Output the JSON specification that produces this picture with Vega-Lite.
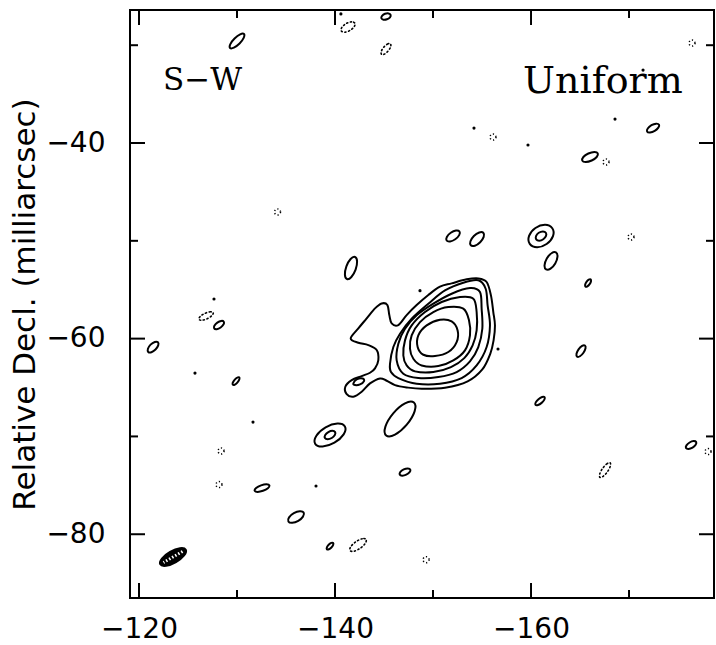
{
"$schema":"https://vega.github.io/schema/vega-lite/v6.json",
"width":584,"height":588,"autosize":"none",
"padding":{"left":130,"top":10,"right":2,"bottom":47},
"background":"white",
"config":{"view":{"stroke":"black","strokeWidth":2},"axis":{"grid":false,"domain":false,"ticks":false,"labelColor":"black","labelFont":"DejaVu Sans","labelFontSize":28,"labelFlush":false,"labelOverlap":false}},
"datasets":{
"c":[
{"c":"A","s":"p","i":0,"x":-130.71,"y":-28.86},{"c":"A","s":"p","i":1,"x":-130.32,"y":-28.89},{"c":"A","s":"p","i":2,"x":-129.75,"y":-29.32},{"c":"A","s":"p","i":3,"x":-129.32,"y":-29.89},{"c":"A","s":"p","i":4,"x":-129.29,"y":-30.28},{"c":"A","s":"p","i":5,"x":-129.68,"y":-30.25},{"c":"A","s":"p","i":6,"x":-130.26,"y":-29.83},{"c":"A","s":"p","i":7,"x":-130.68,"y":-29.25},
{"c":"B","s":"p","i":0,"x":-145.67,"y":-26.90},{"c":"B","s":"p","i":1,"x":-145.46,"y":-26.75},{"c":"B","s":"p","i":2,"x":-145.10,"y":-26.79},{"c":"B","s":"p","i":3,"x":-144.80,"y":-26.99},{"c":"B","s":"p","i":4,"x":-144.73,"y":-27.24},{"c":"B","s":"p","i":5,"x":-144.94,"y":-27.39},{"c":"B","s":"p","i":6,"x":-145.30,"y":-27.35},{"c":"B","s":"p","i":7,"x":-145.61,"y":-27.15},
{"c":"D","s":"n","i":0,"x":-142.02,"y":-27.74},{"c":"D","s":"n","i":1,"x":-141.68,"y":-27.61},{"c":"D","s":"n","i":2,"x":-141.13,"y":-27.79},{"c":"D","s":"n","i":3,"x":-140.70,"y":-28.18},{"c":"D","s":"n","i":4,"x":-140.64,"y":-28.54},{"c":"D","s":"n","i":5,"x":-140.98,"y":-28.67},{"c":"D","s":"n","i":6,"x":-141.53,"y":-28.49},{"c":"D","s":"n","i":7,"x":-141.96,"y":-28.10},
{"c":"E","s":"n","i":0,"x":-145.65,"y":-29.85},{"c":"E","s":"n","i":1,"x":-145.36,"y":-29.88},{"c":"E","s":"n","i":2,"x":-144.97,"y":-30.20},{"c":"E","s":"n","i":3,"x":-144.72,"y":-30.63},{"c":"E","s":"n","i":4,"x":-144.75,"y":-30.93},{"c":"E","s":"n","i":5,"x":-145.04,"y":-30.91},{"c":"E","s":"n","i":6,"x":-145.43,"y":-30.58},{"c":"E","s":"n","i":7,"x":-145.68,"y":-30.15},
{"c":"L","s":"p","i":0,"x":-173.06,"y":-38.12},{"c":"L","s":"p","i":1,"x":-172.76,"y":-38.02},{"c":"L","s":"p","i":2,"x":-172.29,"y":-38.18},{"c":"L","s":"p","i":3,"x":-171.91,"y":-38.52},{"c":"L","s":"p","i":4,"x":-171.84,"y":-38.82},{"c":"L","s":"p","i":5,"x":-172.14,"y":-38.92},{"c":"L","s":"p","i":6,"x":-172.62,"y":-38.76},{"c":"L","s":"p","i":7,"x":-172.99,"y":-38.43},
{"c":"M","s":"p","i":0,"x":-166.81,"y":-41.06},{"c":"M","s":"p","i":1,"x":-166.46,"y":-40.91},{"c":"M","s":"p","i":2,"x":-165.85,"y":-41.07},{"c":"M","s":"p","i":3,"x":-165.34,"y":-41.43},{"c":"M","s":"p","i":4,"x":-165.23,"y":-41.80},{"c":"M","s":"p","i":5,"x":-165.58,"y":-41.95},{"c":"M","s":"p","i":6,"x":-166.19,"y":-41.79},{"c":"M","s":"p","i":7,"x":-166.70,"y":-41.43},
{"c":"P","s":"p","i":0,"x":-142.04,"y":-51.65},{"c":"P","s":"p","i":1,"x":-141.59,"y":-51.86},{"c":"P","s":"p","i":2,"x":-141.16,"y":-52.61},{"c":"P","s":"p","i":3,"x":-141.01,"y":-53.46},{"c":"P","s":"p","i":4,"x":-141.22,"y":-53.91},{"c":"P","s":"p","i":5,"x":-141.67,"y":-53.70},{"c":"P","s":"p","i":6,"x":-142.10,"y":-52.95},{"c":"P","s":"p","i":7,"x":-142.25,"y":-52.10},
{"c":"Q","s":"p","i":0,"x":-152.70,"y":-49.05},{"c":"Q","s":"p","i":1,"x":-152.34,"y":-48.95},{"c":"Q","s":"p","i":2,"x":-151.81,"y":-49.18},{"c":"Q","s":"p","i":3,"x":-151.41,"y":-49.60},{"c":"Q","s":"p","i":4,"x":-151.39,"y":-49.97},{"c":"Q","s":"p","i":5,"x":-151.74,"y":-50.07},{"c":"Q","s":"p","i":6,"x":-152.27,"y":-49.84},{"c":"Q","s":"p","i":7,"x":-152.67,"y":-49.42},
{"c":"R","s":"p","i":0,"x":-155.13,"y":-49.18},{"c":"R","s":"p","i":1,"x":-154.72,"y":-49.15},{"c":"R","s":"p","i":2,"x":-154.17,"y":-49.50},{"c":"R","s":"p","i":3,"x":-153.82,"y":-50.05},{"c":"R","s":"p","i":4,"x":-153.85,"y":-50.46},{"c":"R","s":"p","i":5,"x":-154.27,"y":-50.50},{"c":"R","s":"p","i":6,"x":-154.81,"y":-50.14},{"c":"R","s":"p","i":7,"x":-155.17,"y":-49.60},
{"c":"S1","s":"p","i":0,"x":-162.17,"y":-48.71},{"c":"S1","s":"p","i":1,"x":-161.43,"y":-48.36},{"c":"S1","s":"p","i":2,"x":-160.45,"y":-48.69},{"c":"S1","s":"p","i":3,"x":-159.80,"y":-49.50},{"c":"S1","s":"p","i":4,"x":-159.87,"y":-50.31},{"c":"S1","s":"p","i":5,"x":-160.62,"y":-50.66},{"c":"S1","s":"p","i":6,"x":-161.59,"y":-50.33},{"c":"S1","s":"p","i":7,"x":-162.24,"y":-49.52},
{"c":"S2","s":"p","i":0,"x":-161.51,"y":-49.17},{"c":"S2","s":"p","i":1,"x":-161.21,"y":-49.04},{"c":"S2","s":"p","i":2,"x":-160.79,"y":-49.18},{"c":"S2","s":"p","i":3,"x":-160.51,"y":-49.52},{"c":"S2","s":"p","i":4,"x":-160.53,"y":-49.85},{"c":"S2","s":"p","i":5,"x":-160.84,"y":-49.99},{"c":"S2","s":"p","i":6,"x":-161.25,"y":-49.84},{"c":"S2","s":"p","i":7,"x":-161.53,"y":-49.50},
{"c":"T","s":"p","i":0,"x":-162.54,"y":-51.19},{"c":"T","s":"p","i":1,"x":-162.09,"y":-51.27},{"c":"T","s":"p","i":2,"x":-161.61,"y":-51.81},{"c":"T","s":"p","i":3,"x":-161.38,"y":-52.50},{"c":"T","s":"p","i":4,"x":-161.54,"y":-52.93},{"c":"T","s":"p","i":5,"x":-161.99,"y":-52.85},{"c":"T","s":"p","i":6,"x":-162.47,"y":-52.31},{"c":"T","s":"p","i":7,"x":-162.70,"y":-51.62},
{"c":"V","s":"p","i":0,"x":-166.08,"y":-53.94},{"c":"V","s":"p","i":1,"x":-165.89,"y":-53.97},{"c":"V","s":"p","i":2,"x":-165.66,"y":-54.20},{"c":"V","s":"p","i":3,"x":-165.52,"y":-54.49},{"c":"V","s":"p","i":4,"x":-165.56,"y":-54.68},{"c":"V","s":"p","i":5,"x":-165.75,"y":-54.65},{"c":"V","s":"p","i":6,"x":-165.98,"y":-54.43},{"c":"V","s":"p","i":7,"x":-166.12,"y":-54.13},
{"c":"X","s":"n","i":0,"x":-127.57,"y":-57.35},{"c":"X","s":"n","i":1,"x":-127.26,"y":-57.26},{"c":"X","s":"n","i":2,"x":-126.71,"y":-57.42},{"c":"X","s":"n","i":3,"x":-126.24,"y":-57.74},{"c":"X","s":"n","i":4,"x":-126.12,"y":-58.03},{"c":"X","s":"n","i":5,"x":-126.42,"y":-58.12},{"c":"X","s":"n","i":6,"x":-126.97,"y":-57.96},{"c":"X","s":"n","i":7,"x":-127.44,"y":-57.64},
{"c":"Y","s":"p","i":0,"x":-128.65,"y":-58.27},{"c":"Y","s":"p","i":1,"x":-128.39,"y":-58.19},{"c":"Y","s":"p","i":2,"x":-127.99,"y":-58.36},{"c":"Y","s":"p","i":3,"x":-127.69,"y":-58.68},{"c":"Y","s":"p","i":4,"x":-127.67,"y":-58.95},{"c":"Y","s":"p","i":5,"x":-127.93,"y":-59.03},{"c":"Y","s":"p","i":6,"x":-128.33,"y":-58.86},{"c":"Y","s":"p","i":7,"x":-128.63,"y":-58.54},
{"c":"Z","s":"p","i":0,"x":-121.93,"y":-60.37},{"c":"Z","s":"p","i":1,"x":-121.61,"y":-60.34},{"c":"Z","s":"p","i":2,"x":-121.18,"y":-60.61},{"c":"Z","s":"p","i":3,"x":-120.91,"y":-61.04},{"c":"Z","s":"p","i":4,"x":-120.94,"y":-61.36},{"c":"Z","s":"p","i":5,"x":-121.26,"y":-61.39},{"c":"Z","s":"p","i":6,"x":-121.68,"y":-61.11},{"c":"Z","s":"p","i":7,"x":-121.96,"y":-60.69},
{"c":"AB","s":"p","i":0,"x":-130.22,"y":-63.96},{"c":"AB","s":"p","i":1,"x":-130.02,"y":-63.98},{"c":"AB","s":"p","i":2,"x":-129.75,"y":-64.21},{"c":"AB","s":"p","i":3,"x":-129.56,"y":-64.52},{"c":"AB","s":"p","i":4,"x":-129.58,"y":-64.72},{"c":"AB","s":"p","i":5,"x":-129.78,"y":-64.70},{"c":"AB","s":"p","i":6,"x":-130.05,"y":-64.47},{"c":"AB","s":"p","i":7,"x":-130.24,"y":-64.16},
{"c":"AD1","s":"p","i":0,"x":-141.01,"y":-68.99},{"c":"AD1","s":"p","i":1,"x":-140.24,"y":-68.69},{"c":"AD1","s":"p","i":2,"x":-139.04,"y":-69.08},{"c":"AD1","s":"p","i":3,"x":-138.10,"y":-69.93},{"c":"AD1","s":"p","i":4,"x":-137.97,"y":-70.74},{"c":"AD1","s":"p","i":5,"x":-138.74,"y":-71.03},{"c":"AD1","s":"p","i":6,"x":-139.94,"y":-70.64},{"c":"AD1","s":"p","i":7,"x":-140.88,"y":-69.79},
{"c":"AD2","s":"p","i":0,"x":-140.01,"y":-69.56},{"c":"AD2","s":"p","i":1,"x":-139.73,"y":-69.43},{"c":"AD2","s":"p","i":2,"x":-139.32,"y":-69.56},{"c":"AD2","s":"p","i":3,"x":-139.00,"y":-69.86},{"c":"AD2","s":"p","i":4,"x":-138.97,"y":-70.16},{"c":"AD2","s":"p","i":5,"x":-139.25,"y":-70.29},{"c":"AD2","s":"p","i":6,"x":-139.67,"y":-70.16},{"c":"AD2","s":"p","i":7,"x":-139.98,"y":-69.86},
{"c":"AE","s":"p","i":0,"x":-148.05,"y":-66.54},{"c":"AE","s":"p","i":1,"x":-147.14,"y":-66.62},{"c":"AE","s":"p","i":2,"x":-145.94,"y":-67.64},{"c":"AE","s":"p","i":3,"x":-145.14,"y":-69.00},{"c":"AE","s":"p","i":4,"x":-145.22,"y":-69.91},{"c":"AE","s":"p","i":5,"x":-146.12,"y":-69.82},{"c":"AE","s":"p","i":6,"x":-147.32,"y":-68.80},{"c":"AE","s":"p","i":7,"x":-148.12,"y":-67.44},
{"c":"AF","s":"p","i":0,"x":-147.68,"y":-73.39},{"c":"AF","s":"p","i":1,"x":-147.44,"y":-73.27},{"c":"AF","s":"p","i":2,"x":-147.01,"y":-73.37},{"c":"AF","s":"p","i":3,"x":-146.67,"y":-73.63},{"c":"AF","s":"p","i":4,"x":-146.60,"y":-73.89},{"c":"AF","s":"p","i":5,"x":-146.85,"y":-74.01},{"c":"AF","s":"p","i":6,"x":-147.27,"y":-73.91},{"c":"AF","s":"p","i":7,"x":-147.61,"y":-73.65},
{"c":"AJ","s":"p","i":0,"x":-133.30,"y":-75.01},{"c":"AJ","s":"p","i":1,"x":-133.01,"y":-74.89},{"c":"AJ","s":"p","i":2,"x":-132.45,"y":-75.00},{"c":"AJ","s":"p","i":3,"x":-131.95,"y":-75.27},{"c":"AJ","s":"p","i":4,"x":-131.80,"y":-75.55},{"c":"AJ","s":"p","i":5,"x":-132.09,"y":-75.67},{"c":"AJ","s":"p","i":6,"x":-132.65,"y":-75.56},{"c":"AJ","s":"p","i":7,"x":-133.15,"y":-75.29},
{"c":"AK","s":"p","i":0,"x":-136.80,"y":-77.79},{"c":"AK","s":"p","i":1,"x":-136.41,"y":-77.65},{"c":"AK","s":"p","i":2,"x":-135.80,"y":-77.85},{"c":"AK","s":"p","i":3,"x":-135.31,"y":-78.28},{"c":"AK","s":"p","i":4,"x":-135.24,"y":-78.69},{"c":"AK","s":"p","i":5,"x":-135.63,"y":-78.83},{"c":"AK","s":"p","i":6,"x":-136.25,"y":-78.63},{"c":"AK","s":"p","i":7,"x":-136.73,"y":-78.20},
{"c":"AL","s":"p","i":0,"x":-139.81,"y":-80.89},{"c":"AL","s":"p","i":1,"x":-139.62,"y":-80.89},{"c":"AL","s":"p","i":2,"x":-139.35,"y":-81.07},{"c":"AL","s":"p","i":3,"x":-139.17,"y":-81.34},{"c":"AL","s":"p","i":4,"x":-139.17,"y":-81.53},{"c":"AL","s":"p","i":5,"x":-139.37,"y":-81.54},{"c":"AL","s":"p","i":6,"x":-139.63,"y":-81.35},{"c":"AL","s":"p","i":7,"x":-139.81,"y":-81.08},
{"c":"AM","s":"n","i":0,"x":-143.17,"y":-80.53},{"c":"AM","s":"n","i":1,"x":-142.77,"y":-80.46},{"c":"AM","s":"n","i":2,"x":-142.12,"y":-80.77},{"c":"AM","s":"n","i":3,"x":-141.61,"y":-81.27},{"c":"AM","s":"n","i":4,"x":-141.53,"y":-81.67},{"c":"AM","s":"n","i":5,"x":-141.93,"y":-81.74},{"c":"AM","s":"n","i":6,"x":-142.58,"y":-81.43},{"c":"AM","s":"n","i":7,"x":-143.09,"y":-80.93},
{"c":"AP","s":"p","i":0,"x":-161.38,"y":-65.99},{"c":"AP","s":"p","i":1,"x":-161.13,"y":-65.97},{"c":"AP","s":"p","i":2,"x":-160.76,"y":-66.19},{"c":"AP","s":"p","i":3,"x":-160.48,"y":-66.52},{"c":"AP","s":"p","i":4,"x":-160.46,"y":-66.77},{"c":"AP","s":"p","i":5,"x":-160.71,"y":-66.79},{"c":"AP","s":"p","i":6,"x":-161.08,"y":-66.57},{"c":"AP","s":"p","i":7,"x":-161.36,"y":-66.24},
{"c":"AQ","s":"p","i":0,"x":-165.50,"y":-60.70},{"c":"AQ","s":"p","i":1,"x":-165.21,"y":-60.74},{"c":"AQ","s":"p","i":2,"x":-164.85,"y":-61.10},{"c":"AQ","s":"p","i":3,"x":-164.64,"y":-61.55},{"c":"AQ","s":"p","i":4,"x":-164.70,"y":-61.84},{"c":"AQ","s":"p","i":5,"x":-164.99,"y":-61.80},{"c":"AQ","s":"p","i":6,"x":-165.35,"y":-61.44},{"c":"AQ","s":"p","i":7,"x":-165.56,"y":-60.99},
{"c":"AR","s":"n","i":0,"x":-168.07,"y":-72.70},{"c":"AR","s":"n","i":1,"x":-167.74,"y":-72.80},{"c":"AR","s":"n","i":2,"x":-167.30,"y":-73.27},{"c":"AR","s":"n","i":3,"x":-167.01,"y":-73.84},{"c":"AR","s":"n","i":4,"x":-167.03,"y":-74.18},{"c":"AR","s":"n","i":5,"x":-167.36,"y":-74.08},{"c":"AR","s":"n","i":6,"x":-167.80,"y":-73.61},{"c":"AR","s":"n","i":7,"x":-168.09,"y":-73.04},
{"c":"AS","s":"p","i":0,"x":-176.85,"y":-70.58},{"c":"AS","s":"p","i":1,"x":-176.59,"y":-70.48},{"c":"AS","s":"p","i":2,"x":-176.18,"y":-70.62},{"c":"AS","s":"p","i":3,"x":-175.86,"y":-70.91},{"c":"AS","s":"p","i":4,"x":-175.81,"y":-71.18},{"c":"AS","s":"p","i":5,"x":-176.07,"y":-71.28},{"c":"AS","s":"p","i":6,"x":-176.48,"y":-71.14},{"c":"AS","s":"p","i":7,"x":-176.80,"y":-70.85},
{"c":"BM","s":"b","i":0,"x":-124.77,"y":-81.58},{"c":"BM","s":"b","i":1,"x":-124.18,"y":-81.43},{"c":"BM","s":"b","i":2,"x":-123.17,"y":-81.81},{"c":"BM","s":"b","i":3,"x":-122.34,"y":-82.49},{"c":"BM","s":"b","i":4,"x":-122.17,"y":-83.08},{"c":"BM","s":"b","i":5,"x":-122.76,"y":-83.23},{"c":"BM","s":"b","i":6,"x":-123.77,"y":-82.85},{"c":"BM","s":"b","i":7,"x":-124.60,"y":-82.17},
{"c":"H","s":"h","i":0,"x":-124.44,"y":-81.77},{"c":"H","s":"h","i":1,"x":-122.50,"y":-82.89},
{"c":"M0","s":"p","i":0,"x":-148.43,"y":-60.86},{"c":"M0","s":"p","i":1,"x":-148.50,"y":-59.67},{"c":"M0","s":"p","i":2,"x":-149.35,"y":-58.65},{"c":"M0","s":"p","i":3,"x":-150.71,"y":-58.07},{"c":"M0","s":"p","i":4,"x":-151.90,"y":-58.24},{"c":"M0","s":"p","i":5,"x":-152.51,"y":-59.16},{"c":"M0","s":"p","i":6,"x":-152.41,"y":-60.35},{"c":"M0","s":"p","i":7,"x":-151.56,"y":-61.37},{"c":"M0","s":"p","i":8,"x":-150.20,"y":-61.78},{"c":"M0","s":"p","i":9,"x":-149.01,"y":-61.65},
{"c":"M2","s":"p","i":0,"x":-147.65,"y":-61.03},{"c":"M2","s":"p","i":1,"x":-147.82,"y":-59.67},{"c":"M2","s":"p","i":2,"x":-148.67,"y":-58.31},{"c":"M2","s":"p","i":3,"x":-150.03,"y":-57.28},{"c":"M2","s":"p","i":4,"x":-151.56,"y":-56.77},{"c":"M2","s":"p","i":5,"x":-153.09,"y":-56.94},{"c":"M2","s":"p","i":6,"x":-153.67,"y":-58.13},{"c":"M2","s":"p","i":7,"x":-153.77,"y":-59.67},{"c":"M2","s":"p","i":8,"x":-153.26,"y":-61.20},{"c":"M2","s":"p","i":9,"x":-152.07,"y":-62.23},{"c":"M2","s":"p","i":10,"x":-150.54,"y":-62.81},{"c":"M2","s":"p","i":11,"x":-148.84,"y":-62.74},{"c":"M2","s":"p","i":12,"x":-147.99,"y":-62.06},
{"c":"M3","s":"p","i":0,"x":-146.97,"y":-61.72},{"c":"M3","s":"p","i":1,"x":-147.14,"y":-60.18},{"c":"M3","s":"p","i":2,"x":-147.82,"y":-58.65},{"c":"M3","s":"p","i":3,"x":-149.18,"y":-57.28},{"c":"M3","s":"p","i":4,"x":-150.88,"y":-56.26},{"c":"M3","s":"p","i":5,"x":-152.75,"y":-55.75},{"c":"M3","s":"p","i":6,"x":-154.11,"y":-55.92},{"c":"M3","s":"p","i":7,"x":-154.45,"y":-57.28},{"c":"M3","s":"p","i":8,"x":-154.45,"y":-59.16},{"c":"M3","s":"p","i":9,"x":-154.04,"y":-60.69},{"c":"M3","s":"p","i":10,"x":-153.19,"y":-61.99},{"c":"M3","s":"p","i":11,"x":-151.83,"y":-62.91},{"c":"M3","s":"p","i":12,"x":-150.03,"y":-63.42},{"c":"M3","s":"p","i":13,"x":-148.16,"y":-63.35},{"c":"M3","s":"p","i":14,"x":-147.31,"y":-62.74},
{"c":"M4","s":"p","i":0,"x":-146.29,"y":-62.23},{"c":"M4","s":"p","i":1,"x":-146.46,"y":-60.52},{"c":"M4","s":"p","i":2,"x":-147.14,"y":-58.99},{"c":"M4","s":"p","i":3,"x":-148.33,"y":-57.62},{"c":"M4","s":"p","i":4,"x":-150.03,"y":-56.43},{"c":"M4","s":"p","i":5,"x":-151.90,"y":-55.41},{"c":"M4","s":"p","i":6,"x":-153.77,"y":-54.83},{"c":"M4","s":"p","i":7,"x":-154.79,"y":-55.24},{"c":"M4","s":"p","i":8,"x":-154.96,"y":-56.94},{"c":"M4","s":"p","i":9,"x":-155.03,"y":-58.99},{"c":"M4","s":"p","i":10,"x":-154.62,"y":-60.86},{"c":"M4","s":"p","i":11,"x":-153.77,"y":-62.33},{"c":"M4","s":"p","i":12,"x":-152.41,"y":-63.42},{"c":"M4","s":"p","i":13,"x":-150.54,"y":-63.93},{"c":"M4","s":"p","i":14,"x":-148.50,"y":-64.03},{"c":"M4","s":"p","i":15,"x":-146.97,"y":-63.59},
{"c":"M5","s":"p","i":0,"x":-145.61,"y":-62.57},{"c":"M5","s":"p","i":1,"x":-145.95,"y":-60.86},{"c":"M5","s":"p","i":2,"x":-146.63,"y":-59.50},{"c":"M5","s":"p","i":3,"x":-147.82,"y":-57.96},{"c":"M5","s":"p","i":4,"x":-149.52,"y":-56.43},{"c":"M5","s":"p","i":5,"x":-151.22,"y":-55.07},{"c":"M5","s":"p","i":6,"x":-153.09,"y":-54.28},{"c":"M5","s":"p","i":7,"x":-154.62,"y":-54.04},{"c":"M5","s":"p","i":8,"x":-155.37,"y":-54.90},{"c":"M5","s":"p","i":9,"x":-155.57,"y":-56.60},{"c":"M5","s":"p","i":10,"x":-155.81,"y":-58.65},{"c":"M5","s":"p","i":11,"x":-155.47,"y":-60.86},{"c":"M5","s":"p","i":12,"x":-154.45,"y":-62.74},{"c":"M5","s":"p","i":13,"x":-152.92,"y":-64.03},{"c":"M5","s":"p","i":14,"x":-150.71,"y":-64.61},{"c":"M5","s":"p","i":15,"x":-148.33,"y":-64.61},{"c":"M5","s":"p","i":16,"x":-146.46,"y":-64.03},{"c":"M5","s":"p","i":17,"x":-145.71,"y":-63.42},
{"c":"M6","s":"p","i":0,"x":-141.60,"y":-59.98},{"c":"M6","s":"p","i":1,"x":-142.38,"y":-58.95},{"c":"M6","s":"p","i":2,"x":-143.23,"y":-57.93},{"c":"M6","s":"p","i":3,"x":-144.08,"y":-56.91},{"c":"M6","s":"p","i":4,"x":-144.76,"y":-56.40},{"c":"M6","s":"p","i":5,"x":-145.34,"y":-56.57},{"c":"M6","s":"p","i":6,"x":-145.54,"y":-57.59},{"c":"M6","s":"p","i":7,"x":-145.78,"y":-58.44},{"c":"M6","s":"p","i":8,"x":-146.46,"y":-58.61},{"c":"M6","s":"p","i":9,"x":-147.31,"y":-57.59},{"c":"M6","s":"p","i":10,"x":-148.33,"y":-56.57},{"c":"M6","s":"p","i":11,"x":-149.52,"y":-55.54},{"c":"M6","s":"p","i":12,"x":-150.71,"y":-54.69},{"c":"M6","s":"p","i":13,"x":-151.90,"y":-54.35},{"c":"M6","s":"p","i":14,"x":-153.43,"y":-53.94},{"c":"M6","s":"p","i":15,"x":-154.62,"y":-53.84},{"c":"M6","s":"p","i":16,"x":-155.47,"y":-54.21},{"c":"M6","s":"p","i":17,"x":-155.91,"y":-55.58},{"c":"M6","s":"p","i":18,"x":-156.15,"y":-57.28},{"c":"M6","s":"p","i":19,"x":-156.32,"y":-58.65},{"c":"M6","s":"p","i":20,"x":-156.18,"y":-60.18},{"c":"M6","s":"p","i":21,"x":-155.84,"y":-61.55},{"c":"M6","s":"p","i":22,"x":-155.03,"y":-63.15},{"c":"M6","s":"p","i":23,"x":-153.53,"y":-64.37},{"c":"M6","s":"p","i":24,"x":-151.22,"y":-65.02},{"c":"M6","s":"p","i":25,"x":-148.84,"y":-65.13},{"c":"M6","s":"p","i":26,"x":-147.31,"y":-64.99},{"c":"M6","s":"p","i":27,"x":-146.12,"y":-64.75},{"c":"M6","s":"p","i":28,"x":-145.27,"y":-64.31},{"c":"M6","s":"p","i":29,"x":-144.59,"y":-64.07},{"c":"M6","s":"p","i":30,"x":-143.57,"y":-64.58},{"c":"M6","s":"p","i":31,"x":-142.72,"y":-65.43},{"c":"M6","s":"p","i":32,"x":-141.87,"y":-65.94},{"c":"M6","s":"p","i":33,"x":-141.19,"y":-65.67},{"c":"M6","s":"p","i":34,"x":-141.05,"y":-64.92},{"c":"M6","s":"p","i":35,"x":-141.70,"y":-64.24},{"c":"M6","s":"p","i":36,"x":-142.72,"y":-63.83},{"c":"M6","s":"p","i":37,"x":-143.57,"y":-63.49},{"c":"M6","s":"p","i":38,"x":-144.08,"y":-63.04},{"c":"M6","s":"p","i":39,"x":-144.42,"y":-62.19},{"c":"M6","s":"p","i":40,"x":-144.25,"y":-61.17},{"c":"M6","s":"p","i":41,"x":-143.40,"y":-60.66},{"c":"M6","s":"p","i":42,"x":-142.38,"y":-60.42},
{"c":"MT","s":"p","i":0,"x":-141.87,"y":-64.58},{"c":"MT","s":"p","i":1,"x":-142.21,"y":-64.17},{"c":"MT","s":"p","i":2,"x":-142.82,"y":-64.07},{"c":"MT","s":"p","i":3,"x":-142.96,"y":-64.34},{"c":"MT","s":"p","i":4,"x":-142.55,"y":-64.68},{"c":"MT","s":"p","i":5,"x":-142.04,"y":-64.75}
],
"d":[
{"k":"d","x":-140.6,"y":-26.8},{"k":"d","x":-171.43,"y":-32.54},{"k":"d","x":-154.18,"y":-38.47},{"k":"d","x":-159.69,"y":-40.2},{"k":"d","x":-168.57,"y":-37.55},{"k":"d","x":-127.65,"y":-55.95},{"k":"d","x":-125.71,"y":-63.52},{"k":"d","x":-131.63,"y":-68.53},{"k":"d","x":-138.06,"y":-75.07},{"k":"d","x":-156.63,"y":-61.06},{"k":"d","x":-148.67,"y":-55.10},
{"k":"n","x":-176.43,"y":-29.78},{"k":"n","x":-156.12,"y":-39.39},{"k":"n","x":-167.65,"y":-41.94},{"k":"n","x":-134.13,"y":-47.05},{"k":"n","x":-170.2,"y":-49.61},{"k":"n","x":-128.37,"y":-71.49},{"k":"n","x":-128.16,"y":-74.92},{"k":"n","x":-149.29,"y":-82.6},{"k":"n","x":-178.06,"y":-71.55}
],
"t":[{"label":"S−W","x":-122.45,"y":-34.58},{"label":"Uniform","x":-159.18,"y":-34.89}],
"tk":[
{"e":"b","m":1,"x":-120,"y":-86.52},{"e":"b","m":0,"x":-130,"y":-86.52},{"e":"b","m":1,"x":-140,"y":-86.52},{"e":"b","m":0,"x":-150,"y":-86.52},{"e":"b","m":1,"x":-160,"y":-86.52},{"e":"b","m":0,"x":-170,"y":-86.52},
{"e":"t","m":1,"x":-120,"y":-26.4},{"e":"t","m":0,"x":-130,"y":-26.4},{"e":"t","m":1,"x":-140,"y":-26.4},{"e":"t","m":0,"x":-150,"y":-26.4},{"e":"t","m":1,"x":-160,"y":-26.4},{"e":"t","m":0,"x":-170,"y":-26.4},
{"e":"l","m":0,"x":-119.08,"y":-30},{"e":"l","m":1,"x":-119.08,"y":-40},{"e":"l","m":0,"x":-119.08,"y":-50},{"e":"l","m":1,"x":-119.08,"y":-60},{"e":"l","m":0,"x":-119.08,"y":-70},{"e":"l","m":1,"x":-119.08,"y":-80},
{"e":"r","m":0,"x":-178.67,"y":-30},{"e":"r","m":1,"x":-178.67,"y":-40},{"e":"r","m":0,"x":-178.67,"y":-50},{"e":"r","m":1,"x":-178.67,"y":-60},{"e":"r","m":0,"x":-178.67,"y":-70},{"e":"r","m":1,"x":-178.67,"y":-80}
]
},
"encoding":{
"x":{"field":"x","type":"quantitative","scale":{"domain":[-178.67,-119.08],"reverse":true,"nice":false,"zero":false},
"axis":{"orient":"bottom","title":null,"values":[-120,-140,-160],"format":"d","labelPadding":17}},
"y":{"field":"y","type":"quantitative","scale":{"domain":[-86.52,-26.4],"nice":false,"zero":false},
"axis":{"orient":"left","title":"Relative Decl. (milliarcsec)","titleFont":"DejaVu Sans","titleFontSize":31,"titleFontWeight":"normal","titleColor":"black","titlePadding":4,"titleLimit":1000,"values":[-40,-60,-80],"format":"d","labelPadding":25}}
},
"layer":[
{"data":{"name":"c"},"transform":[{"filter":"datum.s === 'p'"}],"mark":{"type":"line","color":"black","strokeWidth":2,"interpolate":"cardinal-closed","clip":true},"encoding":{"detail":{"field":"c"},"order":{"field":"i","type":"quantitative"}}},
{"data":{"name":"c"},"transform":[{"filter":"datum.s === 'n'"}],"mark":{"type":"line","color":"black","strokeWidth":1.6,"strokeDash":[1.2,2.6],"strokeCap":"round","interpolate":"cardinal-closed","clip":true},"encoding":{"detail":{"field":"c"},"order":{"field":"i","type":"quantitative"}}},
{"data":{"name":"c"},"transform":[{"filter":"datum.s === 'b'"}],"mark":{"type":"line","stroke":"black","fill":"black","strokeWidth":2,"interpolate":"cardinal-closed","clip":true},"encoding":{"detail":{"field":"c"},"order":{"field":"i","type":"quantitative"}}},
{"data":{"name":"c"},"transform":[{"filter":"datum.s === 'h'"}],"mark":{"type":"line","color":"white","strokeWidth":3,"strokeDash":[1.5,2],"clip":true},"encoding":{"detail":{"field":"c"},"order":{"field":"i","type":"quantitative"}}},
{"data":{"name":"d"},"transform":[{"filter":"datum.k === 'd'"}],"mark":{"type":"point","filled":true,"color":"black","size":10,"opacity":1}},
{"data":{"name":"d"},"transform":[{"filter":"datum.k === 'n'"}],"mark":{"type":"point","shape":"circle","filled":false,"color":"black","size":36,"strokeWidth":1.5,"strokeDash":[1.2,2.2],"opacity":1}},
{"data":{"name":"t"},"transform":[{"filter":"datum.label === 'S−W'"}],"mark":{"type":"text","align":"left","baseline":"alphabetic","font":"DejaVu Serif","fontSize":31,"color":"black"},"encoding":{"text":{"field":"label"}}},
{"data":{"name":"t"},"transform":[{"filter":"datum.label === 'Uniform'"}],"mark":{"type":"text","align":"left","baseline":"alphabetic","font":"DejaVu Serif","fontSize":38,"color":"black"},"encoding":{"text":{"field":"label"}}},
{"data":{"name":"tk"},"transform":[{"filter":"datum.e === 'b' && datum.m === 1"}],"mark":{"type":"point","shape":"M0,0L0,-2","filled":false,"color":"black","strokeWidth":2,"size":225,"opacity":1}},
{"data":{"name":"tk"},"transform":[{"filter":"datum.e === 'b' && datum.m === 0"}],"mark":{"type":"point","shape":"M0,0L0,-2","filled":false,"color":"black","strokeWidth":2,"size":64,"opacity":1}},
{"data":{"name":"tk"},"transform":[{"filter":"datum.e === 't' && datum.m === 1"}],"mark":{"type":"point","shape":"M0,0L0,2","filled":false,"color":"black","strokeWidth":2,"size":225,"opacity":1}},
{"data":{"name":"tk"},"transform":[{"filter":"datum.e === 't' && datum.m === 0"}],"mark":{"type":"point","shape":"M0,0L0,2","filled":false,"color":"black","strokeWidth":2,"size":64,"opacity":1}},
{"data":{"name":"tk"},"transform":[{"filter":"datum.e === 'l' && datum.m === 1"}],"mark":{"type":"point","shape":"M0,0L2,0","filled":false,"color":"black","strokeWidth":2,"size":225,"opacity":1}},
{"data":{"name":"tk"},"transform":[{"filter":"datum.e === 'l' && datum.m === 0"}],"mark":{"type":"point","shape":"M0,0L2,0","filled":false,"color":"black","strokeWidth":2,"size":64,"opacity":1}},
{"data":{"name":"tk"},"transform":[{"filter":"datum.e === 'r' && datum.m === 1"}],"mark":{"type":"point","shape":"M0,0L-2,0","filled":false,"color":"black","strokeWidth":2,"size":225,"opacity":1}},
{"data":{"name":"tk"},"transform":[{"filter":"datum.e === 'r' && datum.m === 0"}],"mark":{"type":"point","shape":"M0,0L-2,0","filled":false,"color":"black","strokeWidth":2,"size":64,"opacity":1}}
]
}
